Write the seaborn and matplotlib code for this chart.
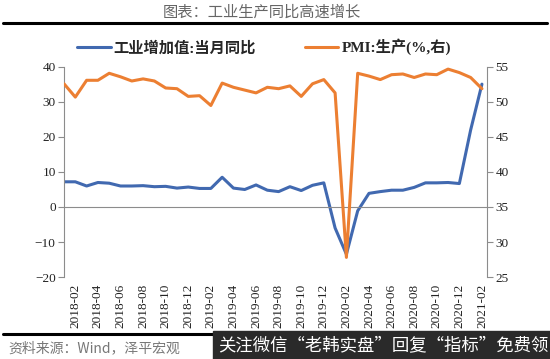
import numpy as np
import pandas as pd
import matplotlib
matplotlib.use('Agg')
import matplotlib.pyplot as plt
import seaborn as sns
from matplotlib.lines import Line2D
from matplotlib.patches import Rectangle
from matplotlib.font_manager import FontProperties

sns.set_style('white')
plt.rcParams['font.family'] = ['Liberation Serif', 'Noto Sans CJK SC', 'DejaVu Sans']

# monthly data, 2018-01 .. 2021-02
months = pd.date_range('2018-01-01', '2021-02-01', freq='MS')

ip_yoy = [7.2, 7.2, 6.0, 7.0, 6.8, 6.0, 6.0, 6.1, 5.8, 5.9, 5.4, 5.7,
          5.3, 5.3, 8.5, 5.4, 5.0, 6.3, 4.8, 4.4, 5.8, 4.7, 6.2, 6.9,
          -6.0, -13.5, -1.1, 3.9, 4.4, 4.8, 4.8, 5.6, 6.9, 6.9, 7.0, 6.7,
          22.0, 35.1]

pmi_prod = [52.6, 50.7, 53.1, 53.1, 54.1, 53.6, 53.0, 53.3, 53.0, 52.0, 51.9, 50.8,
            50.9, 49.5, 52.7, 52.1, 51.7, 51.3, 52.1, 51.9, 52.3, 50.8, 52.6, 53.2,
            51.3, 27.8, 54.1, 53.7, 53.2, 53.9, 54.0, 53.5, 54.0, 53.9, 54.7, 54.2,
            53.5, 51.9]

x_labels = [m.strftime('%Y-%m') for m in months if m.month % 2 == 0]
label_idx = [i for i, m in enumerate(months) if m.month % 2 == 0]
tick_idx = [i for i, m in enumerate(months) if m.month % 2 == 1]

left_ticks = [-20, -10, 0, 10, 20, 30, 40]
right_ticks = [25, 30, 35, 40, 45, 50, 55]

BLUE = '#4169b0'
ORANGE = '#ec7f32'
GRAY = '#8c8c8c'

x = np.arange(len(months))

fig = plt.figure(figsize=(5.5, 3.59), dpi=100)
ax = fig.add_axes([0.1164, 0.2284, 0.7691, 0.585])

sns.lineplot(x=x, y=ip_yoy, ax=ax, color=BLUE, lw=2.2)
ax.set_ylim(-20, 40)
ax.set_yticks(left_ticks)
ax.set_xlim(0, 37.45)

ax2 = ax.twinx()
sns.lineplot(x=x, y=pmi_prod, ax=ax2, color=ORANGE, lw=2.2)
ax2.set_ylim(25, 55)
ax2.set_yticks(right_ticks)

for s in ['top', 'right']:
    ax.spines[s].set_visible(False)
for s in ['top', 'left', 'bottom']:
    ax2.spines[s].set_visible(False)
ax.spines['left'].set_color(GRAY)
ax2.spines['right'].set_color(GRAY)
ax.spines['bottom'].set_color(GRAY)
ax.spines['bottom'].set_position(('data', 0))

ax.set_xticks(tick_idx)
ax.set_xticklabels([])
ax.tick_params(axis='x', direction='out', length=4, color=GRAY, width=0.8)
ax.tick_params(axis='y', direction='out', length=4, color=GRAY, labelsize=9.5,
               labelcolor='#222222', pad=2)
ax2.tick_params(axis='y', direction='out', length=4, color=GRAY, labelsize=9.5,
                labelcolor='#222222', pad=2)

sec = ax.secondary_xaxis('bottom')
sec.set_xticks(label_idx)
sec.set_xticklabels(x_labels, rotation=90, fontsize=9.5, color='#222222')
sec.tick_params(length=0, pad=5)
sec.spines['bottom'].set_visible(False)

ax.set_xlabel('')
ax.set_ylabel('')
ax2.set_ylabel('')

# legend
leg_font = FontProperties(family=['Liberation Serif', 'Noto Sans CJK SC'], weight='bold', size=11)
handles = [Line2D([], [], color=BLUE, lw=2.2), Line2D([], [], color=ORANGE, lw=2.2)]
fig.legend(handles, ['工业增加值:当月同比', 'PMI:生产(%,右)'], loc='center',
           bbox_to_anchor=(0.48, 0.869), ncol=2, frameon=False, prop=leg_font,
           handlelength=2.2, handletextpad=0.2, columnspacing=3.2)

# title and rules
fig.text(0.476, 0.965, '图表：工业生产同比高速增长', ha='center', va='center',
         fontsize=11, color='#666666', family=['Noto Sans CJK SC'])
fig.add_artist(Line2D([0.006, 0.994], [1 - 22.5 / 359] * 2, color='black', lw=2.2,
                      transform=fig.transFigure))
fig.add_artist(Line2D([0.006, 0.994], [1 - 334 / 359] * 2, color='black', lw=2.2,
                      transform=fig.transFigure))

fig.text(0.015, 0.031, '资料来源：Wind，泽平宏观', ha='left', va='center',
         fontsize=10, color='#777777', style='italic',
         family=['Noto Sans CJK SC', 'DejaVu Sans'])

fig.add_artist(Rectangle((213 / 550, 0), 337 / 550, 28 / 359, transform=fig.transFigure,
                         color='#2a2a2a', zorder=5))
fig.text(0.697, 0.039, '关注微信“老韩实盘”回复“指标”免费领', ha='center', va='center',
         fontsize=12.5, color='white', family=['Noto Sans CJK SC'], zorder=6)

fig.savefig('out.png', dpi=100)
